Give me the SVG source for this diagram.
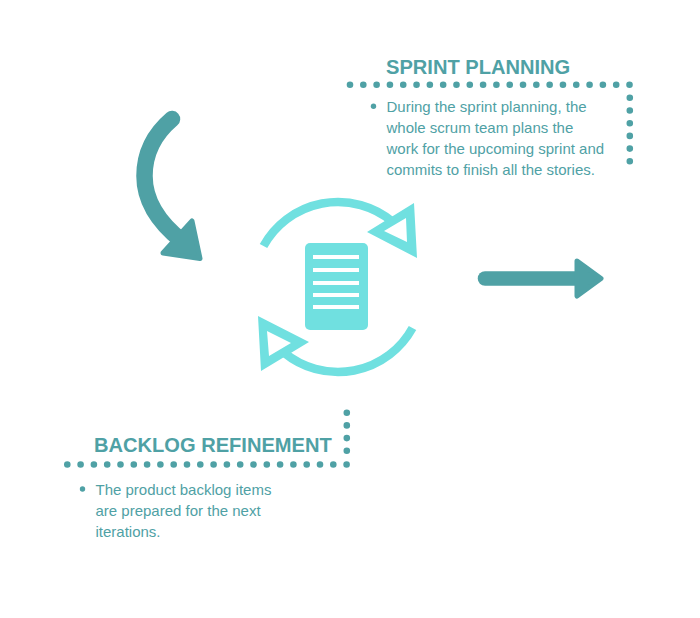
<svg xmlns="http://www.w3.org/2000/svg" width="700" height="618" viewBox="0 0 700 618">
<style>
.t{fill:#4fa1a5;font-family:"Liberation Sans",Arial,sans-serif}
.h{font-size:20.100px;font-weight:700}
.b{font-size:15px}
.ic{fill:#70e0e0}
.arc{fill:none;stroke:#70e0e0;stroke-width:8.500}
.d{fill:none;stroke:#4fa1a5;stroke-width:6.600;stroke-linecap:round}
.a{fill:#4fa1a5;stroke:#4fa1a5;stroke-linejoin:round}
</style>
<rect width="700" height="618" fill="#fff"/>
<g id="connectors">
<path d="M172 119C152 136 144.500 156 144.500 176C144.500 200 158 222 182 241" fill="none" stroke="#4fa1a5" stroke-width="16.500" stroke-linecap="round"/>
<path class="a" stroke-width="5" d="M192 221L200 258.500L163 253Z"/>
<path d="M485 278.500H580" fill="none" stroke="#4fa1a5" stroke-width="14.500" stroke-linecap="round"/>
<path class="a" stroke-width="5" d="M577 261L601 278.500L577 296Z"/>
</g>
<g id="cycle-icon">
<path class="arc" d="M263.500 246A85 85 0 0 1 392 221.400"/>
<path class="arc" d="M412.500 328A85 85 0 0 1 284 352.600"/>
<path class="ic" fill-rule="evenodd" d="M367 232L414 203L417 258ZM384 231L407 242L406 218Z"/>
<path class="ic" fill-rule="evenodd" d="M258 316L309 342L261 371ZM267 331L269 356L291 343Z"/>
<rect class="ic" x="305" y="243" width="63" height="87" rx="5"/>
<g fill="#fff">
<rect x="313" y="255" width="46" height="4"/>
<rect x="313" y="268" width="46" height="4"/>
<rect x="313" y="281" width="46" height="4"/>
<rect x="313" y="293" width="46" height="4"/>
<rect x="313" y="305" width="46" height="4"/>
</g>
</g>
<g id="sprint-planning">
<path class="d" stroke-dasharray="0 13.310" d="M350 84.700H630"/>
<path class="d" stroke-dasharray="0 12.700" d="M629.800 97.800V162"/>
<text class="t h" x="386" y="74">SPRINT PLANNING</text>
<circle cx="373.500" cy="106.300" r="2.700" fill="#4fa1a5"/>
<text class="t b" x="386.500" y="111.500">During the sprint planning, the</text>
<text class="t b" x="386.500" y="132.500">whole scrum team plans the</text>
<text class="t b" x="386.500" y="153.500">work for the upcoming sprint and</text>
<text class="t b" x="386.500" y="174.500">commits to finish all the stories.</text>
</g>
<g id="backlog-refinement">
<path class="d" stroke-dasharray="0 13.300" d="M67.300 464.500H347"/>
<path class="d" stroke-dasharray="0 12.700" d="M346.800 412.700V451"/>
<text class="t h" x="94" y="452">BACKLOG REFINEMENT</text>
<circle cx="82.500" cy="489" r="2.700" fill="#4fa1a5"/>
<text class="t b" x="95.500" y="494.500">The product backlog items</text>
<text class="t b" x="95.500" y="515.500">are prepared for the next</text>
<text class="t b" x="95.500" y="536.500">iterations.</text>
</g>
</svg>
